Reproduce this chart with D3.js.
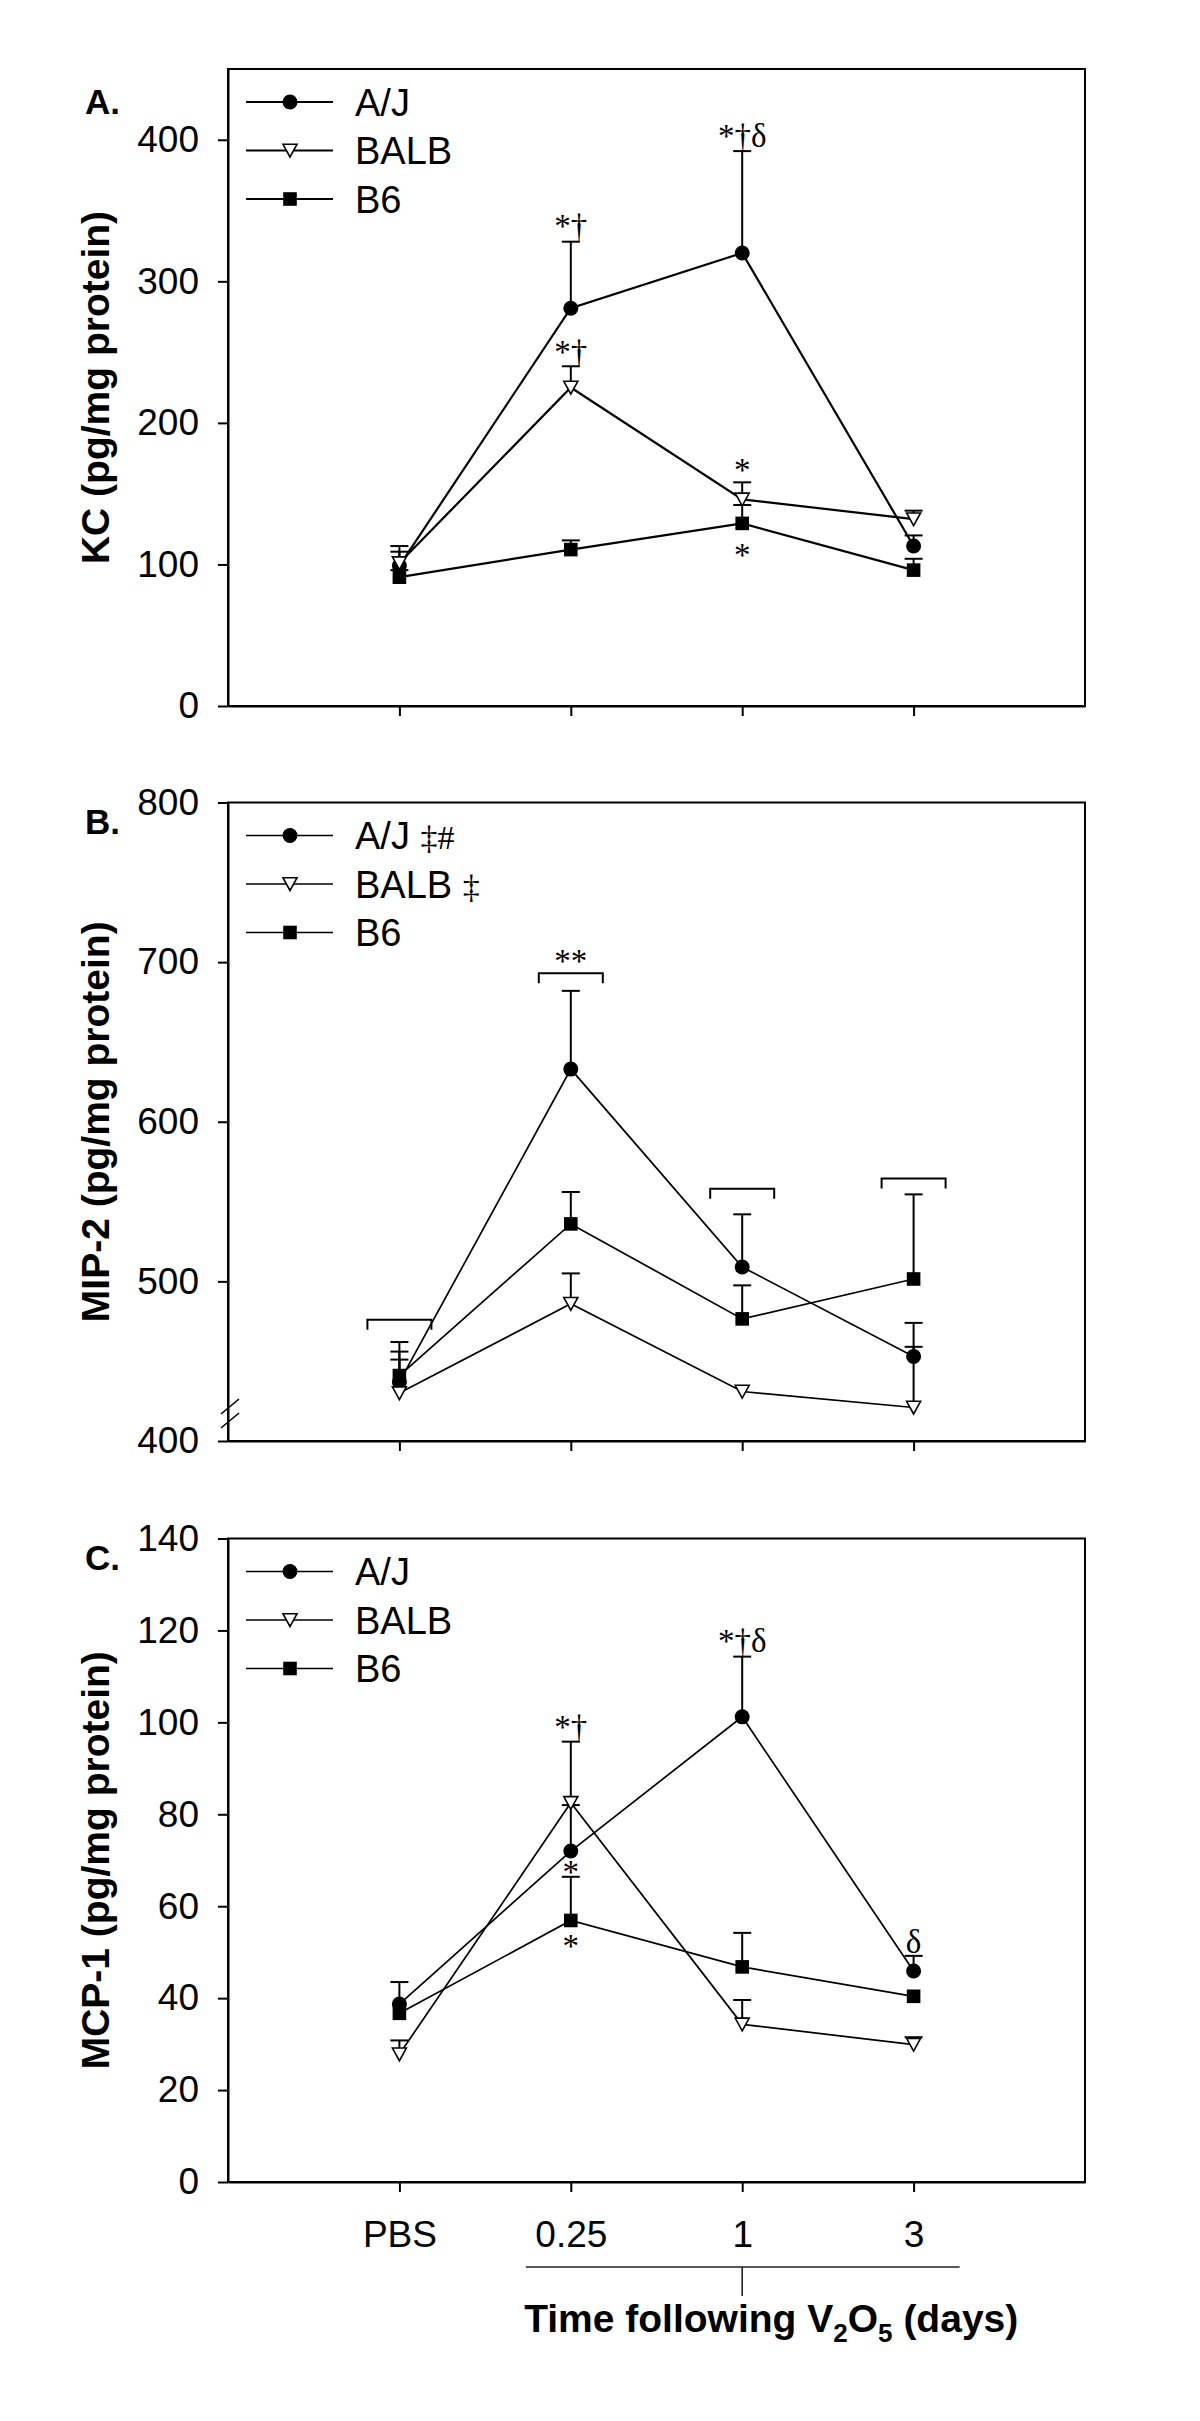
<!DOCTYPE html>
<html>
<head>
<meta charset="utf-8">
<script src="https://cdn.jsdelivr.net/npm/d3@7"></script>
<style>
  body { margin: 0; background: #fff; }
  svg { display: block; }
</style>
</head>
<body>
<svg id="chart" width="1200" height="2421"></svg>
<script>
// ---------------- DATA ----------------
const categories = ["PBS", "0.25", "1", "3"];
const strains = ["A/J", "BALB", "B6"];

// Panel A: KC (pg/mg protein)
const kcAJ      = [99, 281, 320, 113];
const kcAJsem   = [10, 47, 72, 7.5];
const kcBALB    = [101, 225, 146, 132];
const kcBALBsem = [12, 15, 12, 6];
const kcB6      = [91, 110.5, 129, 96];
const kcB6sem   = [5, 6.5, 13, 8];
const kcTicks   = [0, 100, 200, 300, 400];
const kcNotes   = [
  { cat: "0.25", v: 331, t: "*†" },
  { cat: "0.25", v: 242, t: "*†" },
  { cat: "1",    v: 395, t: "*†δ" },
  { cat: "1",    v: 159, t: "*" },
  { cat: "1",    v: 99, t: "*" }
];

// Panel B: MIP-2 (pg/mg protein)
const mipAJ      = [437, 633, 509, 453];
const mipAJsem   = [25, 49, 33, 21];
const mipBALB    = [430, 486, 431, 421];
const mipBALBsem = [21, 19, 0, 38];
const mipB6      = [441, 536, 476.5, 501.5];
const mipB6sem   = [15, 20, 21, 53];
const mipTicks   = [400, 500, 600, 700, 800];
const mipBrackets = [476, 693, 558, 564.5];
const mipNotes   = [ { cat: "0.25", v: 694, t: "**" } ];

// Panel C: MCP-1 (pg/mg protein)
const mcpAJ      = [38.7, 72, 101.2, 45.9];
const mcpAJsem   = [4.8, 10, 13.1, 3.3];
const mcpBALB    = [27.8, 82.5, 34.3, 29.9];
const mcpBALBsem = [3, 13.3, 5.3, 1.6];
const mcpB6      = [36.7, 56.9, 46.8, 40.4];
const mcpB6sem   = [0, 9.5, 7.4, 0];
const mcpTicks   = [0, 20, 40, 60, 80, 100, 120, 140];
const mcpNotes   = [
  { cat: "0.25", v: 96.5, t: "*†" },
  { cat: "0.25", v: 65.0, t: "*" },
  { cat: "0.25", v: 49.0, t: "*" },
  { cat: "1",    v: 115.3, t: "*†δ" },
  { cat: "3",    v: 49.8, t: "δ" }
];

const legendA = [["A/J", ""], ["BALB", ""], ["B6", ""]];
const legendB = [["A/J ", "‡#"], ["BALB ", "‡"], ["B6", ""]];
const xTitle = ["Time following V", "2", "O", "5", " (days)"];

// ---------------- DRAWING ----------------
const SANS = "'Liberation Sans', Arial, Helvetica, sans-serif";
const SERIF = "'Liberation Serif', 'Times New Roman', serif";
const svg = d3.select("#chart");
svg.append("rect").attr("width", 1200).attr("height", 2421).attr("fill", "#fff");

const X0 = 228, X1 = 1085;
const x = d3.scalePoint().domain(categories).range([X0, X1]).padding(1);

function symbol(g, kind, cx, cy) {
  if (kind === "circle") {
    g.append("circle").attr("cx", cx).attr("cy", cy).attr("r", 7.5).attr("fill", "#000");
  } else if (kind === "square") {
    g.append("rect").attr("x", cx - 6.8).attr("y", cy - 6.8).attr("width", 13.6).attr("height", 13.6).attr("fill", "#000");
  } else {
    g.append("path")
      .attr("d", `M${cx - 7},${cy - 6.2}L${cx + 7},${cy - 6.2}L${cx},${cy + 6.5}Z`)
      .attr("fill", "#fff").attr("stroke", "#000").attr("stroke-width", 1.6).attr("stroke-linejoin", "miter");
  }
}

const panels = [
  { top: 69, bottom: 706, domain: [0, 450], ticks: kcTicks, ylabel: "KC (pg/mg protein)", letter: "A.", letterY: 114,
    series: [ { v: kcAJ, e: kcAJsem, sym: "circle" }, { v: kcBALB, e: kcBALBsem, sym: "triangle" }, { v: kcB6, e: kcB6sem, sym: "square" } ],
    legend: legendA, notes: kcNotes, brackets: null, lw: 2.2, xlabels: false, brk: false },
  { top: 802.5, bottom: 1441, domain: [400, 800], ticks: mipTicks, ylabel: "MIP-2 (pg/mg protein)", letter: "B.", letterY: 834,
    series: [ { v: mipAJ, e: mipAJsem, sym: "circle" }, { v: mipBALB, e: mipBALBsem, sym: "triangle" }, { v: mipB6, e: mipB6sem, sym: "square" } ],
    legend: legendB, notes: mipNotes, brackets: mipBrackets, lw: 1.7, xlabels: false, brk: true },
  { top: 1538.5, bottom: 2182, domain: [0, 140], ticks: mcpTicks, ylabel: "MCP-1 (pg/mg protein)", letter: "C.", letterY: 1570,
    series: [ { v: mcpAJ, e: mcpAJsem, sym: "circle" }, { v: mcpBALB, e: mcpBALBsem, sym: "triangle" }, { v: mcpB6, e: mcpB6sem, sym: "square" } ],
    legend: legendA, notes: mcpNotes, brackets: null, lw: 1.7, xlabels: true, brk: false }
];

panels.forEach(p => {
  const g = svg.append("g");
  const y = d3.scaleLinear().domain(p.domain).range([p.bottom, p.top]);

  // frame
  g.append("rect").attr("x", X0).attr("y", p.top).attr("width", X1 - X0).attr("height", p.bottom - p.top)
    .attr("fill", "none").attr("stroke", "#000").attr("stroke-width", 2);

  // y axis
  const ya = g.append("g").attr("transform", `translate(${X0},0)`)
    .call(d3.axisLeft(y).tickValues(p.ticks).tickSize(10).tickSizeOuter(0).tickPadding(19).tickFormat(d3.format("d")));
  ya.attr("font-family", SANS).attr("font-size", 37);
  ya.select(".domain").attr("stroke-width", 2);
  ya.selectAll(".tick line").attr("stroke-width", 2);
  ya.selectAll(".tick text").attr("fill", "#000");

  // x axis
  const xa = g.append("g").attr("transform", `translate(0,${p.bottom})`)
    .call(d3.axisBottom(x).tickSize(10).tickSizeOuter(0).tickPadding(29).tickFormat(p.xlabels ? (d => d) : (() => "")));
  xa.attr("font-family", SANS).attr("font-size", 37);
  xa.select(".domain").attr("stroke-width", 2);
  xa.selectAll(".tick line").attr("stroke-width", 2);
  xa.selectAll(".tick text").attr("fill", "#000");

  // axis break
  if (p.brk) {
    [34.5, 20.5].forEach(off => {
      g.append("line").attr("x1", X0 - 7).attr("x2", X0 + 11).attr("y1", p.bottom - off + 7.5).attr("y2", p.bottom - off - 7.5)
        .attr("stroke", "#000").attr("stroke-width", 1.6);
    });
  }

  // y label
  g.append("text").attr("transform", `translate(109,${(p.top + p.bottom) / 2}) rotate(-90)`)
    .attr("text-anchor", "middle").attr("font-family", SANS).attr("font-weight", "bold").attr("font-size", 39)
    .attr("fill", "#000").text(p.ylabel);

  // panel letter
  g.append("text").attr("x", 85).attr("y", p.letterY).attr("font-family", SANS).attr("font-weight", "bold")
    .attr("font-size", 35).attr("fill", "#000").text(p.letter);

  // brackets
  if (p.brackets) {
    p.brackets.forEach((b, i) => {
      const cx = x(categories[i]), by = y(b);
      g.append("path").attr("d", `M${cx - 32},${by + 10}V${by}H${cx + 32}V${by + 10}`)
        .attr("fill", "none").attr("stroke", "#000").attr("stroke-width", 2);
    });
  }

  // series
  const line = d3.line().x((d, i) => x(categories[i])).y(d => y(d));
  p.series.forEach(s => {
    g.append("path").attr("d", line(s.v)).attr("fill", "none").attr("stroke", "#000").attr("stroke-width", p.lw);
    s.v.forEach((v, i) => {
      if (!s.e[i]) return;
      const cx = x(categories[i]);
      const y0 = y(v), y1 = y(v + s.e[i]);
      g.append("line").attr("x1", cx).attr("x2", cx).attr("y1", y0).attr("y2", y1).attr("stroke", "#000").attr("stroke-width", 2);
      g.append("line").attr("x1", cx - 9).attr("x2", cx + 9).attr("y1", y1).attr("y2", y1).attr("stroke", "#000").attr("stroke-width", 2);
    });
    s.v.forEach((v, i) => symbol(g, s.sym, x(categories[i]), y(v)));
  });

  // annotations
  p.notes.forEach(n => {
    g.append("text").attr("x", x(n.cat)).attr("y", y(n.v)).attr("text-anchor", "middle")
      .attr("font-family", SERIF).attr("font-size", 33).attr("fill", "#000").text(n.t);
  });

  // legend
  p.legend.forEach((item, i) => {
    const ly = p.top + 33 + i * 48.5;
    g.append("line").attr("x1", X0 + 18).attr("x2", X0 + 105).attr("y1", ly).attr("y2", ly)
      .attr("stroke", "#000").attr("stroke-width", p.lw);
    symbol(g, p.series[i].sym, X0 + 62, ly);
    const t = g.append("text").attr("x", X0 + 127).attr("y", ly + 13.5).attr("font-family", SANS)
      .attr("font-size", 38).attr("fill", "#000");
    t.append("tspan").text(item[0]);
    if (item[1]) t.append("tspan").attr("font-family", SERIF).attr("font-size", 34).text(item[1]);
  });

  // x-axis title group (bottom panel only)
  if (p.xlabels) {
    const ly = p.bottom + 85;
    g.append("line").attr("x1", x("0.25") - 45).attr("x2", x("3") + 46).attr("y1", ly).attr("y2", ly)
      .attr("stroke", "#222").attr("stroke-width", 1.6);
    g.append("line").attr("x1", x("1")).attr("x2", x("1")).attr("y1", ly).attr("y2", ly + 29)
      .attr("stroke", "#222").attr("stroke-width", 1.6);
    const t = g.append("text").attr("x", (x("0.25") - 45 + x("3") + 103) / 2).attr("y", p.bottom + 150)
      .attr("text-anchor", "middle").attr("font-family", SANS).attr("font-weight", "bold").attr("font-size", 39).attr("fill", "#000");
    t.append("tspan").text(xTitle[0]);
    t.append("tspan").attr("font-size", 26).attr("dy", 10).text(xTitle[1]);
    t.append("tspan").attr("dy", -10).text(xTitle[2]);
    t.append("tspan").attr("font-size", 26).attr("dy", 10).text(xTitle[3]);
    t.append("tspan").attr("dy", -10).text(xTitle[4]);
  }
});
</script>
</body>
</html>
